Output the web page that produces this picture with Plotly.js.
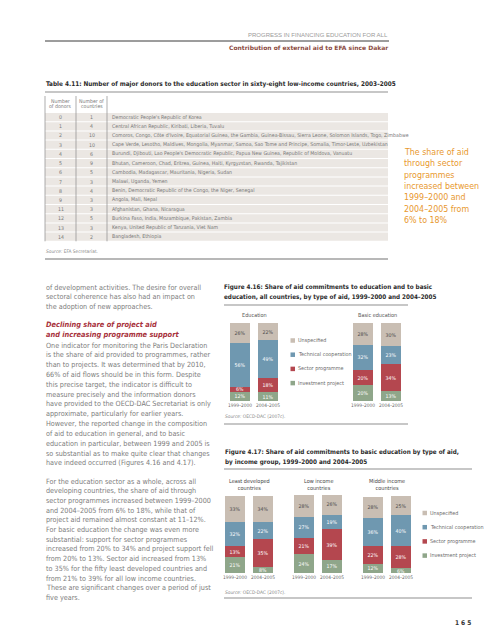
<!DOCTYPE html>
<html><head><meta charset="utf-8">
<script src="https://cdn.plot.ly/plotly-3.0.1.min.js"></script>
<style>html,body{margin:0;padding:0;background:#fff}#chart{width:492px;height:640px}</style>
</head><body><div id="chart"></div>
<script>
// ---------------- DATA ----------------
const aidTypes = ['Investment project','Sector programme','Technical cooperation','Unspecified'];
const periods = ['1999–2000','2004–2005'];

// Figure 4.16
const fig16Groups = ['Education','Basic education'];
const eduInvest = [12, 11];
const eduSector = [6, 18];
const eduTech = [56, 49];
const eduUnspec = [26, 22];
const basicInvest = [20, 13];
const basicSector = [20, 34];
const basicTech = [32, 23];
const basicUnspec = [28, 30];

// Figure 4.17
const fig17Groups = ['Least developed<br>countries','Low income<br>countries','Middle income<br>countries'];
const ldcInvest = [21, 8];
const ldcSector = [13, 35];
const ldcTech = [32, 22];
const ldcUnspec = [33, 34];
const lowInvest = [24, 17];
const lowSector = [21, 39];
const lowTech = [27, 19];
const lowUnspec = [28, 26];
const midInvest = [12, 6];
const midSector = [22, 28];
const midTech = [36, 40];
const midUnspec = [28, 25];

// Table 4.11
const donorCounts = ['0','1','2','3','4','5','6','7','8','9','11','12','13','14'];
const countryCounts = ['1','4','10','10','6','9','5','3','4','3','3','5','3','2'];
const countryNames = [
 "Democratic People's Republic of Korea",
 "Central African Republic, Kiribati, Liberia, Tuvalu",
 "Comoros, Congo, Côte d'Ivoire, Equatorial Guinea, the Gambia, Guinea-Bissau, Sierra Leone, Solomon Islands, Togo, Zimbabwe",
 "Cape Verde, Lesotho, Maldives, Mongolia, Myanmar, Samoa, Sao Tome and Principe, Somalia, Timor-Leste, Uzbekistan",
 "Burundi, Djibouti, Lao People's Democratic Republic, Papua New Guinea, Republic of Moldova, Vanuatu",
 "Bhutan, Cameroon, Chad, Eritrea, Guinea, Haiti, Kyrgyzstan, Rwanda, Tajikistan",
 "Cambodia, Madagascar, Mauritania, Nigeria, Sudan",
 "Malawi, Uganda, Yemen",
 "Benin, Democratic Republic of the Congo, the Niger, Senegal",
 "Angola, Mali, Nepal",
 "Afghanistan, Ghana, Nicaragua",
 "Burkina Faso, India, Mozambique, Pakistan, Zambia",
 "Kenya, United Republic of Tanzania, Viet Nam",
 "Bangladesh, Ethiopia"
];

// Texts
const sideNote = ['The share of aid','through sector','programmes','increased between','1999–2000 and','2004–2005 from','6% to 18%'];
const para0 = ['of development activities. The desire for overall','sectoral coherence has also had an impact on','the adoption of new approaches.'];
const heading = ['Declining share of project aid','and increasing programme support'];
const para1 = [
 'One indicator for monitoring the Paris Declaration',
 'is the share of aid provided to programmes, rather',
 'than to projects. It was determined that by 2010,',
 '66% of aid flows should be in this form. Despite',
 'this precise target, the indicator is difficult to',
 'measure precisely and the information donors',
 'have provided to the OECD-DAC Secretariat is only',
 'approximate, particularly for earlier years.',
 'However, the reported change in the composition',
 'of aid to education in general, and to basic',
 'education in particular, between 1999 and 2005 is',
 'so substantial as to make quite clear that changes',
 'have indeed occurred (Figures 4.16 and 4.17).'
];
const para2 = [
 'For the education sector as a whole, across all',
 'developing countries, the share of aid through',
 'sector programmes increased between 1999–2000',
 'and 2004–2005 from 6% to 18%, while that of',
 'project aid remained almost constant at 11–12%.',
 'For basic education the change was even more',
 'substantial: support for sector programmes',
 'increased from 20% to 34% and project support fell',
 'from 20% to 13%. Sector aid increased from 13%',
 'to 35% for the fifty least developed countries and',
 'from 21% to 39% for all low income countries.',
 'These are significant changes over a period of just',
 'five years.'
];

// ---------------- STYLE ----------------
const W = 492, H = 640;
const X = v => v / W, Y = v => 1 - v / H;
const NARROW = "'DejaVu Sans Condensed', 'Liberation Sans Narrow', 'Arial Narrow', sans-serif";
const SANS = "'Liberation Sans', Arial, sans-serif";
const colors = ['#8fa68a', '#b4474f', '#6f98b0', '#c9beb3'];
const textColors = ['#ffffff', '#ffffff', '#ffffff', '#4a4a4a'];
const bodyColor = '#7c7c7c';

const data = [];
function addBars(xa, ya, seriesList) {
  seriesList.forEach((vals, i) => {
    data.push({
      type: 'bar', x: periods, y: vals, xaxis: xa, yaxis: ya,
      name: aidTypes[i], marker: {color: colors[i], line: {width: 0}},
      texttemplate: '%{y}%', textposition: 'inside', insidetextanchor: 'middle',
      textangle: 0, constraintext: 'none',
      textfont: {family: NARROW, size: 5.2, color: textColors[i]},
      hoverinfo: 'skip', showlegend: false
    });
  });
}
addBars('x', 'y', [eduInvest, eduSector, eduTech, eduUnspec]);
addBars('x2', 'y', [basicInvest, basicSector, basicTech, basicUnspec]);
addBars('x3', 'y2', [ldcInvest, ldcSector, ldcTech, ldcUnspec]);
addBars('x4', 'y2', [lowInvest, lowSector, lowTech, lowUnspec]);
addBars('x5', 'y2', [midInvest, midSector, midTech, midUnspec]);

function xax(x0, x1, anchor) {
  return {domain: [X(x0), X(x1)], anchor: anchor, type: 'category', showgrid: false, zeroline: false,
    showline: false, ticks: '', tickangle: 0, automargin: false,
    tickfont: {family: NARROW, size: 4.8, color: '#6a6a6a'}, fixedrange: true};
}
function yax(y0, y1, anchor) {
  return {domain: [Y(y0), Y(y1)], anchor: anchor, range: [0, 100], visible: false, fixedrange: true};
}

const annotations = [];
const shapes = [];
function txt(x, y, text, size, color, opts) {
  annotations.push({
    xref: 'paper', yref: 'paper', x: X(x), y: Y(y), text: text, showarrow: false,
    xanchor: (opts && opts.xanchor) || 'left', yanchor: 'middle', borderpad: 0,
    font: {family: (opts && opts.family) || NARROW, size: size, color: color}
  });
}
function hline(y, x0, x1, color, width) {
  shapes.push({type: 'line', xref: 'paper', yref: 'paper', x0: X(x0), x1: X(x1), y0: Y(y), y1: Y(y),
    line: {color: color, width: width}});
}
function vline(x, y0, y1, color, width) {
  shapes.push({type: 'line', xref: 'paper', yref: 'paper', x0: X(x), x1: X(x), y0: Y(y0), y1: Y(y1),
    line: {color: color, width: width}});
}
function rect(x0, y0, x1, y1, fill) {
  shapes.push({type: 'rect', xref: 'paper', yref: 'paper', x0: X(x0), x1: X(x1), y0: Y(y0), y1: Y(y1),
    fillcolor: fill, line: {width: 0}, layer: 'below'});
}

// Page header
txt(389, 35, 'PROGRESS IN FINANCING EDUCATION FOR ALL', 6, '#9a9a9a', {xanchor: 'right', family: SANS});
hline(41, 45, 389, '#3a3a3a', 1);
txt(389, 47.5, '<b>Contribution of external aid to EFA since Dakar</b>', 6, '#8b4b3f', {xanchor: 'right', family: "'DejaVu Sans', sans-serif"});

// Table 4.11
txt(45, 84, '<b>Table 4.11: Number of major donors to the education sector in sixty-eight low-income countries, 2003–2005</b>', 6.4, '#2a2a2a');
hline(92, 45, 388, '#b5b5b5', 1.5);
txt(60.5, 101, 'Number', 5.2, '#777', {xanchor: 'center'});
txt(60.5, 106.5, 'of donors', 5.2, '#777', {xanchor: 'center'});
txt(91.5, 101, 'Number of', 5.2, '#777', {xanchor: 'center'});
txt(91.5, 106.5, 'countries', 5.2, '#777', {xanchor: 'center'});
const rowTop = 112.5, rowH = 9.2;
donorCounts.forEach((d, i) => {
  const yc = rowTop + rowH * (i + 0.5);
  rect(45, rowTop + rowH * i + 0.5, 388, rowTop + rowH * (i + 1) - 0.5, '#ebe7e3');
  txt(60.5, yc, d, 5.2, '#777', {xanchor: 'center'});
  txt(91.5, yc, countryCounts[i], 5.2, '#777', {xanchor: 'center'});
  txt(111, yc, countryNames[i], 5.2, '#777');
});
const tableBottom = rowTop + rowH * donorCounts.length;
vline(45, 96, tableBottom, '#8a8a8a', 0.7);
vline(76, 96, tableBottom, '#8a8a8a', 0.7);
vline(107, 96, tableBottom, '#8a8a8a', 0.7);
txt(45, 251, '<i>Source:</i> EFA Secretariat.', 4.8, '#8a8a8a');
hline(259, 45, 388, '#b8b8b8', 2);

// Side note
sideNote.forEach((s, i) => txt(403, 152 + i * 11.35, s, 8.8, '#e8982e'));

// Body text
para0.forEach((s, i) => txt(45, 287 + i * 9.6, s, 7.2, bodyColor));
heading.forEach((s, i) => txt(45, 324 + i * 10, '<b><i>' + s + '</i></b>', 7.4, '#a8323c'));
para1.forEach((s, i) => txt(45, 345 + i * 9.83, s, 7.2, bodyColor));
para2.forEach((s, i) => txt(45, 481 + i * 9.7, s, 7.2, bodyColor));

// Figure 4.16
txt(223, 287, '<b>Figure 4.16: Share of aid commitments to education and to basic</b>', 6.3, '#2a2a2a');
txt(223, 297, '<b>education, all countries, by type of aid, 1999–2000 and 2004–2005</b>', 6.3, '#2a2a2a');
hline(305, 224, 408, '#b5b5b5', 1.5);
txt(254, 315, fig16Groups[0], 5.5, '#555', {xanchor: 'center'});
txt(377, 315, fig16Groups[1], 5.5, '#555', {xanchor: 'center'});
txt(224, 416, '<i>Source:</i> OECD-DAC (2007c).', 4.8, '#8a8a8a');
hline(424, 224, 408, '#b5b5b5', 1.5);

// Figure 4.17
txt(224, 452, '<b>Figure 4.17: Share of aid commitments to basic education by type of aid,</b>', 6.3, '#2a2a2a');
txt(224, 462, '<b>by income group, 1999–2000 and 2004–2005</b>', 6.3, '#2a2a2a');
hline(469, 224, 472, '#b5b5b5', 1.5);
[249, 318, 387].forEach((cx, i) => txt(cx, 484.5, fig17Groups[i], 5.5, '#444', {xanchor: 'center'}));
txt(224, 592, '<i>Source:</i> OECD-DAC (2007c).', 4.8, '#8a8a8a');
hline(598, 224, 472, '#b5b5b5', 1.5);

// Legends (drawn from aidTypes / colors; top to bottom = reversed stack order)
function legend(sqX, y0, step) {
  for (let k = 0; k < aidTypes.length; k++) {
    const i = aidTypes.length - 1 - k;
    const yc = y0 + k * step;
    shapes.push({type: 'rect', xref: 'paper', yref: 'paper', x0: X(sqX), x1: X(sqX + 4.5),
      y0: Y(yc + 2.25), y1: Y(yc - 2.25), fillcolor: colors[i], line: {width: 0}});
    txt(sqX + 6.5, yc, aidTypes[i], 5.4, '#6a6a6a');
  }
}
legend(290.5, 340.5, 14.2);
legend(422.5, 513, 14.2);

// Page number
txt(463, 623, '<b>1 6 5</b>', 6.5, '#333', {xanchor: 'center'});

const layout = {
  width: W, height: H, margin: {l: 0, r: 0, t: 0, b: 0},
  paper_bgcolor: '#ffffff', plot_bgcolor: 'rgba(0,0,0,0)',
  barmode: 'stack', bargap: 0.286, showlegend: false,
  xaxis: xax(226, 282, 'y'),
  xaxis2: xax(349, 405, 'y'),
  xaxis3: xax(221, 277, 'y2'),
  xaxis4: xax(290, 346, 'y2'),
  xaxis5: xax(359, 415, 'y2'),
  yaxis: yax(401, 323, 'x'),
  yaxis2: yax(573, 495, 'x3'),
  annotations: annotations, shapes: shapes,
  font: {family: NARROW}
};
Plotly.newPlot('chart', data, layout, {staticPlot: true, displayModeBar: false});
</script></body></html>
